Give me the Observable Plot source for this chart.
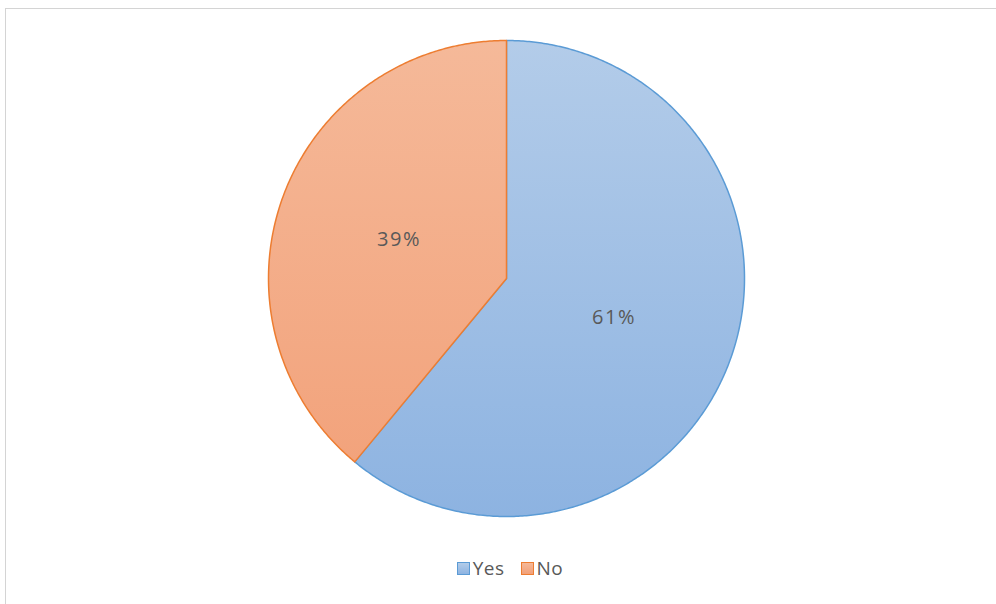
<!DOCTYPE html>
<html>
<head>
<meta charset="utf-8">
<script src="https://cdn.jsdelivr.net/npm/d3@7"></script>
<script src="https://cdn.jsdelivr.net/npm/@observablehq/plot@0.6"></script>
<style>
  html, body { margin: 0; padding: 0; background: #fff; }
  body { width: 996px; height: 604px; position: relative; overflow: hidden; font-family: "Open Sans", "Noto Sans", sans-serif; }
  #frame { position: absolute; left: 5px; top: 8px; width: 1200px; height: 800px; border-top: 1px solid #d4d4d4; border-left: 1px solid #d4d4d4; box-sizing: border-box; pointer-events: none; }
  #chart { position: absolute; left: 0; top: 0; }
  #legend { position: absolute; top: 555px; left: 0; width: 996px; padding-left: 24px; box-sizing: border-box; display: flex; justify-content: center; gap: 16px; font-size: 19px; color: #595959; letter-spacing: 0.5px; }
  .item { display: flex; align-items: center; gap: 3px; }
  .sw { width: 11px; height: 11px; border: 1px solid; }
</style>
</head>
<body>
<div id="chart"></div>
<div id="legend"></div>
<div id="frame"></div>
<script>
const categories = ["Yes", "No"];
const values = [61, 39];
const strokeColors = ["#5b9bd5", "#ed7d31"];
const gradTop = ["#b3cce9", "#f5b999"];
const gradBottom = ["#8db3e1", "#f2a078"];

const total = d3.sum(values);
let start = 0;
const slices = categories.map((c, i) => {
  const a0 = start / total * 2 * Math.PI;
  const a1 = (start + values[i]) / total * 2 * Math.PI;
  start += values[i];
  const pts = [{x: 0, y: 0}];
  const n = Math.max(2, Math.ceil((a1 - a0) / (Math.PI / 360)));
  for (let k = 0; k <= n; k++) {
    const a = a0 + (a1 - a0) * k / n;
    pts.push({x: Math.sin(a), y: Math.cos(a)});
  }
  const mid = (a0 + a1) / 2;
  return {
    category: c, value: values[i], pts,
    lx: 0.48 * Math.sin(mid), ly: 0.48 * Math.cos(mid),
    label: Math.round(values[i] / total * 100) + "%",
    fill: `url(#grad${i})`, stroke: strokeColors[i]
  };
});

const svg = Plot.plot({
  width: 996,
  height: 550,
  marginLeft: 268,
  marginRight: 252,
  marginTop: 40,
  marginBottom: 34,
  x: {domain: [-1, 1], axis: null},
  y: {domain: [-1, 1], axis: null},
  style: {background: "transparent", overflow: "visible"},
  marks: [
    ...slices.map(s => Plot.line(s.pts, {x: "x", y: "y", curve: "linear-closed", fill: s.fill, stroke: s.stroke, strokeWidth: 1.5, strokeLinejoin: "round"})),
    Plot.text(slices, {x: "lx", y: "ly", text: "label", fill: "#595959", fontSize: 20, fontFamily: "Open Sans, Noto Sans, sans-serif"})
  ]
});

d3.select(svg).selectAll("text").style("letter-spacing", "1.5px");

const defs = d3.select(svg).insert("defs", ":first-child");
categories.forEach((c, i) => {
  const g = defs.append("linearGradient").attr("id", "grad" + i)
    .attr("gradientUnits", "userSpaceOnUse").attr("x1", 0).attr("x2", 0).attr("y1", 40).attr("y2", 516);
  g.append("stop").attr("offset", "0%").attr("stop-color", gradTop[i]);
  g.append("stop").attr("offset", "100%").attr("stop-color", gradBottom[i]);
});

document.getElementById("chart").appendChild(svg);

const legend = d3.select("#legend");
categories.forEach((c, i) => {
  const it = legend.append("div").attr("class", "item");
  it.append("div").attr("class", "sw")
    .style("border-color", strokeColors[i])
    .style("background", `linear-gradient(${gradTop[i]}, ${gradBottom[i]})`);
  it.append("span").text(c);
});
</script>
</body>
</html>
